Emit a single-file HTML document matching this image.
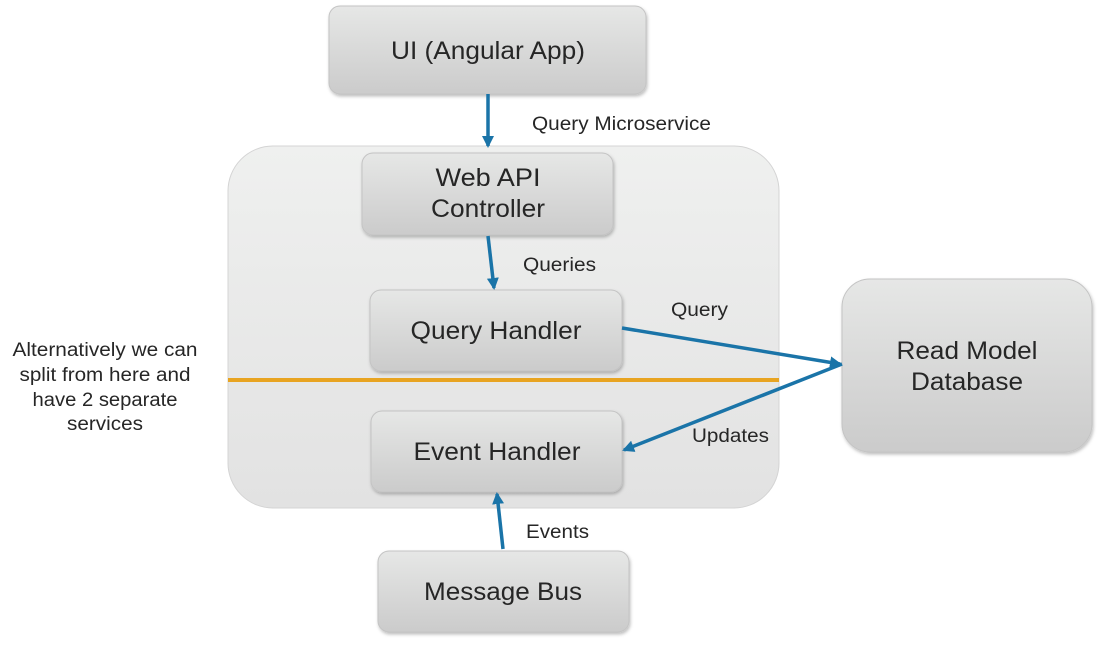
<!DOCTYPE html>
<html><head><meta charset="utf-8">
<style>
html,body{margin:0;padding:0;background:#fff;}
svg{display:block;font-family:"Liberation Sans",Arial,Helvetica,sans-serif;}
text{font-family:"Liberation Sans",Arial,Helvetica,sans-serif;fill:#262626;}
</style></head>
<body>
<svg width="1110" height="652" viewBox="0 0 1110 652" xmlns="http://www.w3.org/2000/svg" font-family="Liberation Sans, Arial, sans-serif">
<defs>
<linearGradient id="g" x1="0" y1="0" x2="0" y2="1">
<stop offset="0" stop-color="#e6e7e6"/><stop offset="1" stop-color="#cbcbcb"/>
</linearGradient>
<linearGradient id="c" x1="0" y1="0" x2="0" y2="1">
<stop offset="0" stop-color="#eff0ef"/><stop offset="1" stop-color="#e2e2e2"/>
</linearGradient>
<filter id="s" x="-10%" y="-10%" width="120%" height="130%">
<feDropShadow dx="1" dy="2" stdDeviation="1.5" flood-color="#000" flood-opacity="0.25"/>
</filter>
<marker id="a" markerWidth="12" markerHeight="12" refX="10" refY="6" orient="auto" markerUnits="userSpaceOnUse">
<path d="M0,0 L12,6 L0,12 z" fill="#1a74a8"/>
</marker>
</defs>
<rect x="228" y="146" width="551" height="362" rx="45" fill="url(#c)" stroke="#d4d4d4" stroke-width="1"/>
<line x1="228" y1="380" x2="779" y2="380" stroke="#e8a421" stroke-width="4"/>
<g filter="url(#s)" stroke="#c4c4c4" stroke-width="1" fill="url(#g)">
<rect x="329" y="6" width="317" height="88" rx="11"/>
<rect x="362" y="153" width="251" height="82" rx="11"/>
<rect x="370" y="290" width="252" height="81" rx="11"/>
<rect x="371" y="411" width="251" height="81" rx="11"/>
<rect x="378" y="551" width="251" height="81" rx="11"/>
<rect x="842" y="279" width="250" height="173" rx="28"/>
</g>
<g font-size="25" text-anchor="middle" lengthAdjust="spacingAndGlyphs">
<text x="488" y="59" textLength="194" lengthAdjust="spacingAndGlyphs">UI (Angular App)</text>
<text x="488" y="186" textLength="105" lengthAdjust="spacingAndGlyphs">Web API</text>
<text x="488" y="217" textLength="114" lengthAdjust="spacingAndGlyphs">Controller</text>
<text x="496" y="339" textLength="171" lengthAdjust="spacingAndGlyphs">Query Handler</text>
<text x="497" y="460" textLength="167" lengthAdjust="spacingAndGlyphs">Event Handler</text>
<text x="503" y="600" textLength="158" lengthAdjust="spacingAndGlyphs">Message Bus</text>
<text x="967" y="359" textLength="141" lengthAdjust="spacingAndGlyphs">Read Model</text>
<text x="967" y="390" textLength="112" lengthAdjust="spacingAndGlyphs">Database</text>
</g>
<g stroke="#1a74a8" stroke-width="3.5" fill="none">
<line x1="488" y1="94" x2="488" y2="146" marker-end="url(#a)"/>
<line x1="488" y1="236" x2="494" y2="288" marker-end="url(#a)"/>
<line x1="622" y1="328" x2="840" y2="364" marker-end="url(#a)"/>
<line x1="842" y1="364" x2="624" y2="450" marker-end="url(#a)"/>
<line x1="503" y1="549" x2="497" y2="494" marker-end="url(#a)"/>
</g>
<g font-size="19">
<text x="532" y="130" textLength="179" lengthAdjust="spacingAndGlyphs">Query Microservice</text>
<text x="523" y="271" textLength="73" lengthAdjust="spacingAndGlyphs">Queries</text>
<text x="671" y="316" textLength="57" lengthAdjust="spacingAndGlyphs">Query</text>
<text x="692" y="442" textLength="77" lengthAdjust="spacingAndGlyphs">Updates</text>
<text x="526" y="538" textLength="63" lengthAdjust="spacingAndGlyphs">Events</text>
</g>
<g font-size="19" text-anchor="middle">
<text x="105" y="356" textLength="185" lengthAdjust="spacingAndGlyphs">Alternatively we can</text>
<text x="105" y="381" textLength="171" lengthAdjust="spacingAndGlyphs">split from here and</text>
<text x="105" y="406" textLength="145" lengthAdjust="spacingAndGlyphs">have 2 separate</text>
<text x="105" y="430" textLength="76" lengthAdjust="spacingAndGlyphs">services</text>
</g>
</svg>
</body></html>
